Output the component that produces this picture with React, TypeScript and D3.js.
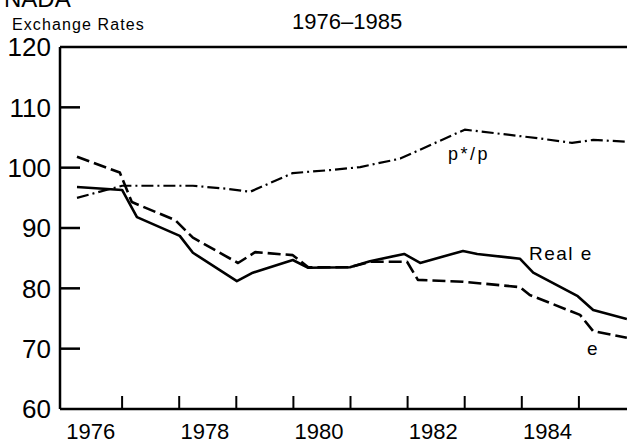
import * as React from "react";
import * as d3 from "d3";

// series: [year, index]
const realE: [number, number][] = [
  [1976.21, 96.8], [1977.0, 96.3], [1977.26, 91.8], [1978.01, 88.7], [1978.24, 85.9],
  [1979.01, 81.2], [1979.29, 82.6], [1979.99, 84.7], [1980.26, 83.4], [1980.99, 83.5],
  [1981.34, 84.5], [1981.94, 85.7], [1982.22, 84.2], [1982.97, 86.2], [1983.22, 85.7],
  [1983.97, 84.9], [1984.2, 82.6], [1984.98, 78.7], [1985.25, 76.4], [1985.84, 74.9],
];
const nominalE: [number, number][] = [
  [1976.21, 101.8], [1976.96, 99.2], [1977.17, 94.3], [1977.93, 91.3], [1978.24, 88.4],
  [1979.03, 84.2], [1979.33, 86.0], [1979.99, 85.5], [1980.26, 83.5], [1980.99, 83.5],
  [1981.34, 84.4], [1981.99, 84.4], [1982.18, 81.4], [1982.97, 81.1], [1983.97, 80.2],
  [1984.14, 78.9], [1985.02, 75.6], [1985.25, 72.9], [1985.84, 71.8],
];
const priceRatio: [number, number][] = [
  [1976.21, 95.0], [1977.0, 97.0], [1978.24, 97.0], [1978.84, 96.5], [1979.24, 96.0],
  [1979.99, 99.1], [1980.64, 99.6], [1981.17, 100.1], [1981.87, 101.5], [1983.0, 106.3],
  [1984.27, 104.9], [1984.88, 104.1], [1985.25, 104.6], [1985.84, 104.3],
];

const yTicks = [60, 70, 80, 90, 100, 110, 120];
const xTicks = [1977, 1978, 1979, 1980, 1981, 1982, 1983, 1984, 1985];
const yearLabels = [1976, 1978, 1980, 1982, 1984];

const FONT = "'Liberation Sans', Arial, Helvetica, sans-serif";

export default function App() {
  const width = 627;
  const height = 443;
  const left = 60;
  const top = 47;
  const bottom = 409;

  const x = d3.scaleLinear().domain([1976, 1986]).range([65, 636]);
  const y = d3.scaleLinear().domain([60, 120]).range([bottom, top]);
  const line = d3.line<[number, number]>().x((d) => x(d[0])).y((d) => y(d[1]));

  return (
    <svg
      width={width}
      height={height}
      style={{ position: "absolute", left: 0, top: 0, background: "#fff" }}
      fontFamily={FONT}
    >
      {/* titles */}
      <text x={4} y={7} fontSize={24}>NADA</text>
      <text x={12} y={30} fontSize={16} letterSpacing={1.1}>Exchange Rates</text>
      <text x={292} y={29} fontSize={22}>1976–1985</text>

      {/* frame */}
      <g stroke="#000" strokeWidth={2.5} fill="none">
        <line x1={left} x2={width} y1={top} y2={top} />
        <line x1={left} x2={left} y1={top} y2={bottom} />
        <line x1={left} x2={width} y1={bottom} y2={bottom} />
        {yTicks.slice(1, -1).map((t) => (
          <line key={t} x1={left} x2={left + 20} y1={y(t)} y2={y(t)} />
        ))}
        {xTicks.map((t) => (
          <line key={t} x1={x(t)} x2={x(t)} y1={bottom} y2={bottom - 13} strokeWidth={2} />
        ))}
      </g>

      {/* y labels */}
      {yTicks.map((t) => (
        <text key={t} x={51} y={y(t)} dy="0.36em" fontSize={26} textAnchor="end">
          {t}
        </text>
      ))}
      {/* x labels centred in the year */}
      {yearLabels.map((t) => (
        <text key={t} x={x(t + 0.45)} y={439} fontSize={22} textAnchor="middle">
          {t}
        </text>
      ))}

      {/* series */}
      <g fill="none" stroke="#000" strokeLinejoin="round">
        <path d={line(realE)!} strokeWidth={2.6} />
        <path d={line(nominalE)!} strokeWidth={2.6} strokeDasharray="13 5" />
        <path d={line(priceRatio)!} strokeWidth={2.2} strokeDasharray="12 4 2 4" />
      </g>

      {/* series labels */}
      <text x={448} y={160} fontSize={18} letterSpacing={2.5}>p*/p</text>
      <text x={529} y={260} fontSize={19} letterSpacing={1.5}>Real e</text>
      <text x={587} y={355} fontSize={19}>e</text>
    </svg>
  );
}
